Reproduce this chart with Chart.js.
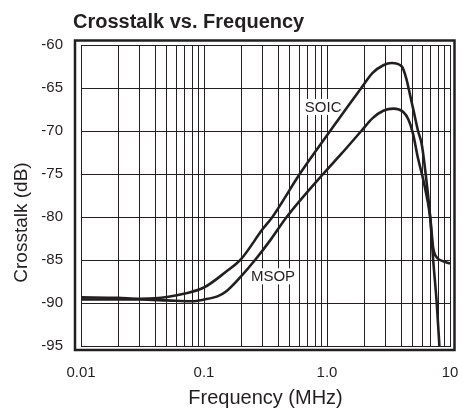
<!DOCTYPE html>
<html>
<head>
<meta charset="utf-8">
<script src="https://cdn.jsdelivr.net/npm/chart.js@4.4.1/dist/chart.umd.min.js"></script>
<style>
  html, body { margin: 0; padding: 0; background: #fff; }
  canvas { display: block; }
</style>
</head>
<body>
<canvas id="crosstalk" width="462" height="412"></canvas>
<script>
// values
const soicFreq = [0.01, 0.02, 0.03, 0.04, 0.05, 0.07, 0.1, 0.15, 0.2, 0.3, 0.36, 0.6, 1.06, 1.5, 1.9, 2.35, 2.87, 3.36, 4.06, 4.45, 4.6, 5.05, 5.5, 5.9, 6.4, 6.9, 7.3, 7.8, 8.2, 8.5];
const soicDb   = [-89.35, -89.4, -89.5, -89.45, -89.3, -88.9, -88.2, -86.4, -84.9, -81.4, -80.0, -75.0, -70.0, -67.0, -65.0, -63.25, -62.35, -62.1, -62.5, -64.1, -65.0, -67.6, -70.0, -71.6, -75.5, -80.0, -85.0, -90.0, -95.0, -98.5];

const msopFreq = [0.01, 0.02, 0.03, 0.05, 0.08, 0.1, 0.13, 0.15, 0.2, 0.26, 0.35, 0.47, 0.93, 1.3, 1.9, 2.35, 2.87, 3.46, 4.17, 4.6, 5.0, 5.5, 6.07, 6.9, 7.3, 7.8, 8.3, 9.0, 10];
const msopDb   = [-89.6, -89.6, -89.6, -89.7, -89.8, -89.6, -89.2, -88.7, -86.9, -85.0, -82.6, -80.0, -75.0, -72.7, -70.0, -68.5, -67.65, -67.4, -67.8, -68.7, -70.3, -73.2, -75.7, -80.0, -83.6, -84.7, -85.0, -85.2, -85.4];

const xMajor = [0.01, 0.1, 1, 10];
const xTickLabels = ["0.01", "0.1", "1.0", "10"];
const yTicks = [-95, -90, -85, -80, -75, -70, -65, -60];

// curve labels: text, frequency, dB (centre of text)
const curveLabels = [
  { text: "SOIC", f: 0.93, db: -67.2 },
  { text: "MSOP", f: 0.364, db: -86.9 }
];

const ink = "#231f20";
const fontFamily = "'Liberation Sans', Arial, Helvetica, sans-serif";

// log grid: 1..9 in every decade, then the last decade line
const xGrid = [];
for (let d = 0; d < xMajor.length - 1; d++) {
  for (let m = 1; m <= 9; m++) xGrid.push(+(xMajor[d] * m).toPrecision(3));
}
xGrid.push(xMajor[xMajor.length - 1]);

function toPoints(fs, ys) {
  return fs.map((f, i) => ({ x: f, y: ys[i] }));
}

const decorations = {
  id: "decorations",
  // labels go under the curves so their white boxes only hide grid lines
  beforeDatasetsDraw(chart) {
    const { ctx, scales } = chart;
    ctx.save();
    ctx.font = "15px " + fontFamily;
    ctx.textAlign = "center";
    ctx.textBaseline = "middle";
    curveLabels.forEach(l => {
      const x = scales.x.getPixelForValue(l.f);
      const y = scales.y.getPixelForValue(l.db);
      const w = ctx.measureText(l.text).width;
      ctx.fillStyle = "#fff";
      ctx.fillRect(x - w / 2 - 2, y - 8, w + 4, 16);
      ctx.fillStyle = ink;
      ctx.fillText(l.text, x, y + 1);
    });
    ctx.restore();
  },
  afterDraw(chart) {
    const { ctx, chartArea: a } = chart;
    ctx.save();
    // heavy outer frame
    ctx.strokeStyle = ink;
    ctx.lineWidth = 2.5;
    ctx.strokeRect(a.left - 6, a.top - 4.5, a.right - a.left + 10.5, a.bottom - a.top + 8.5);

    ctx.fillStyle = ink;
    // chart title
    ctx.font = "bold 20px " + fontFamily;
    ctx.textAlign = "left";
    ctx.textBaseline = "alphabetic";
    ctx.fillText("Crosstalk vs. Frequency", 73, 27.5);

    // y axis title
    ctx.font = "19px " + fontFamily;
    ctx.translate(27, 222.5);
    ctx.rotate(-Math.PI / 2);
    ctx.textAlign = "center";
    ctx.fillText("Crosstalk (dB)", 0, 0);
    ctx.restore();
  }
};

const ctx = document.getElementById("crosstalk").getContext("2d");

new Chart(ctx, {
  type: "line",
  data: {
    datasets: [
      {
        label: "SOIC",
        data: toPoints(soicFreq, soicDb),
        borderColor: ink,
        borderWidth: 2.6,
        pointRadius: 0,
        fill: false,
        cubicInterpolationMode: "monotone"
      },
      {
        label: "MSOP",
        data: toPoints(msopFreq, msopDb),
        borderColor: ink,
        borderWidth: 2.6,
        pointRadius: 0,
        fill: false,
        cubicInterpolationMode: "monotone"
      }
    ]
  },
  options: {
    responsive: false,
    animation: false,
    events: [],
    layout: { padding: { top: 45, right: 12, left: 0, bottom: 0 } },
    plugins: {
      legend: { display: false },
      tooltip: { enabled: false },
      title: { display: false }
    },
    scales: {
      x: {
        type: "logarithmic",
        min: 0.01,
        max: 10,
        afterBuildTicks: s => { s.ticks = xGrid.map(v => ({ value: v })); },
        afterFit: s => { s.height = 66; s.paddingLeft = 0; s.paddingRight = 0; },
        grid: { color: ink, lineWidth: 1, drawTicks: false },
        border: { color: ink, width: 1 },
        ticks: {
          autoSkip: false,
          maxRotation: 0,
          padding: 18,
          color: ink,
          font: { family: fontFamily, size: 15 },
          callback: v => {
            const i = xMajor.findIndex(m => Math.abs(m - v) < 1e-9);
            return i >= 0 ? xTickLabels[i] : "";
          }
        },
        title: {
          display: true,
          text: "Frequency (MHz)",
          color: ink,
          font: { family: fontFamily, size: 20 },
          padding: { top: 0, bottom: 2 }
        }
      },
      y: {
        type: "linear",
        min: -95,
        max: -60,
        afterBuildTicks: s => { s.ticks = yTicks.map(v => ({ value: v })); },
        afterFit: s => { s.width = 81; },
        grid: { color: ink, lineWidth: 1, drawTicks: false },
        border: { color: ink, width: 1 },
        ticks: {
          padding: 18,
          color: ink,
          font: { family: fontFamily, size: 15 },
          callback: v => String(v)
        }
      }
    }
  },
  plugins: [decorations]
});
</script>
</body>
</html>
